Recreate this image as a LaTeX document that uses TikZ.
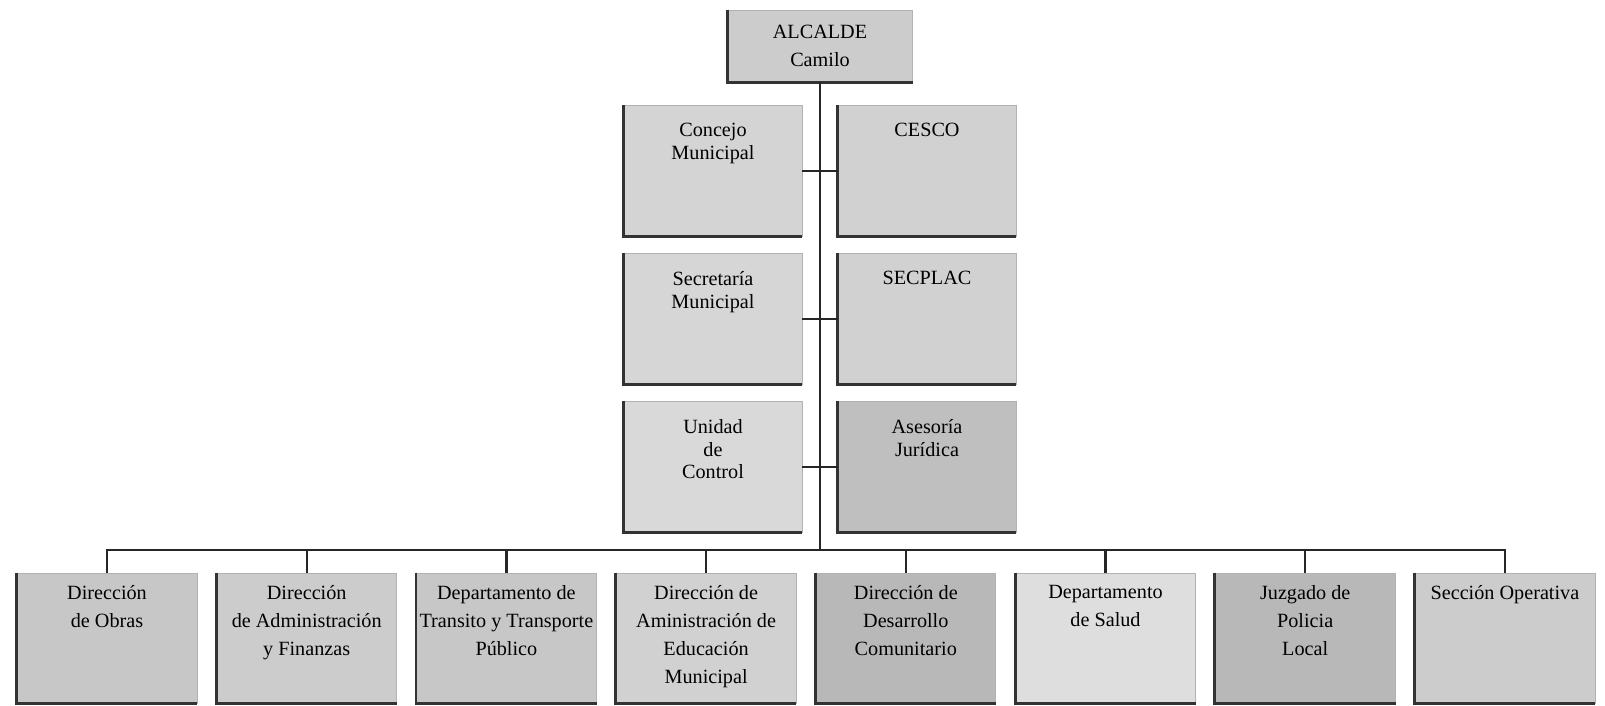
\documentclass[tikz,border=0pt]{standalone}
\usepackage{fontspec}
\setmainfont{Liberation Serif}
\usetikzlibrary{positioning}
\tikzset{
  unit/.style={fill=black!#1, draw=black!30, line width=0.4pt, inner sep=0pt},
  mid/.style={unit=#1, minimum width=3.56cm, minimum height=2.62cm},
  dept/.style={unit=#1, minimum width=3.6cm, minimum height=2.6cm},
  title/.style={anchor=north, align=center, inner sep=0pt, font=\fontsize{11.5}{16}\selectfont},
  midtitle/.style={title, font=\fontsize{11.5}{12.8}\selectfont, yshift=-0.36cm},
  edge/.style={line width=1.3pt, black!85},
  shadow/.style={line width=1.6pt, black!80}
}

\begin{document}
\begin{tikzpicture}
  \useasboundingbox (0,0) rectangle (32.1,-14.1);
  \node[unit=20, minimum width=3.7cm, minimum height=1.44cm, align=center, font=\fontsize{11.5}{16}\selectfont] (alcalde) at (16.4,-0.92) {ALCALDE\\Camilo};
  % staff units beside the trunk
  \node[on grid, mid=17, below left=2.5cm and 2.14cm of alcalde, label={[midtitle]north:Concejo\\Municipal}] (concejo) {};
  \node[on grid, mid=18, right=4.28cm of concejo, label={[midtitle]north:CESCO}] (cesco) {};
  \node[on grid, mid=16, below=2.96cm of concejo, label={[midtitle]north:Secretaría\\Municipal}] (secretaria) {};
  \node[on grid, mid=18, right=4.28cm of secretaria, label={[midtitle]north:SECPLAC}] (secplac) {};
  \node[on grid, mid=15, below=2.96cm of secretaria, label={[midtitle]north:Unidad\\de\\Control}] (unidad) {};
  \node[on grid, mid=25, right=4.28cm of unidad, label={[midtitle]north:Asesoría\\Jurídica}] (asesoria) {};
  \coordinate[on grid, below=10.08cm of alcalde] (hub);
  % departments
  \node[dept=22, label={[title, yshift=-0.24cm]north:Dirección\\de Obras}] (obras) at (2.14,-12.76) {};
  \node[on grid, dept=20, right=3.994cm of obras, label={[title, yshift=-0.24cm]north:Dirección\\de Administración\\y Finanzas}] (finanzas) {};
  \node[on grid, dept=22, right=3.994cm of finanzas, label={[title, yshift=-0.24cm]north:Departamento de\\Transito y Transporte\\Público}] (transito) {};
  \node[on grid, dept=18, right=3.994cm of transito, label={[title, yshift=-0.24cm]north:Dirección de\\Aministración de\\Educación\\Municipal}] (educacion) {};
  \node[on grid, dept=28, right=3.994cm of educacion, label={[title, yshift=-0.24cm]north:Dirección de\\Desarrollo\\Comunitario}] (desarrollo) {};
  \node[on grid, dept=13, right=3.994cm of desarrollo, label={[title, yshift=-0.24cm]north:Departamento\\de Salud}] (salud) {};
  \node[on grid, dept=28, right=3.994cm of salud, label={[title, yshift=-0.24cm]north:Juzgado de\\Policia\\Local}] (juzgado) {};
  \node[on grid, dept=20, right=3.994cm of juzgado, label={[title, yshift=-0.24cm]north:Sección Operativa}] (operativa) {};
  % dark left and bottom edges
  \foreach \n in {alcalde,concejo,cesco,secretaria,secplac,unidad,asesoria,obras,finanzas,transito,educacion,desarrollo,salud,juzgado,operativa}
    \draw[shadow] (\n.north west) -- (\n.south west) -- (\n.south east);
  % connectors
  \draw[edge] (alcalde.south) -- (hub);
  \draw[edge] (concejo.east) -- (cesco.west);
  \draw[edge] (secretaria.east) -- (secplac.west);
  \draw[edge] (unidad.east) -- (asesoria.west);
  \draw[edge] (obras.north) -- (obras.north |- hub) -- (operativa.north |- hub) -- (operativa.north);
  \foreach \n in {finanzas,transito,educacion,desarrollo,salud,juzgado}
    \draw[edge] (\n.north) -- (\n.north |- hub);
\end{tikzpicture}
\end{document}
